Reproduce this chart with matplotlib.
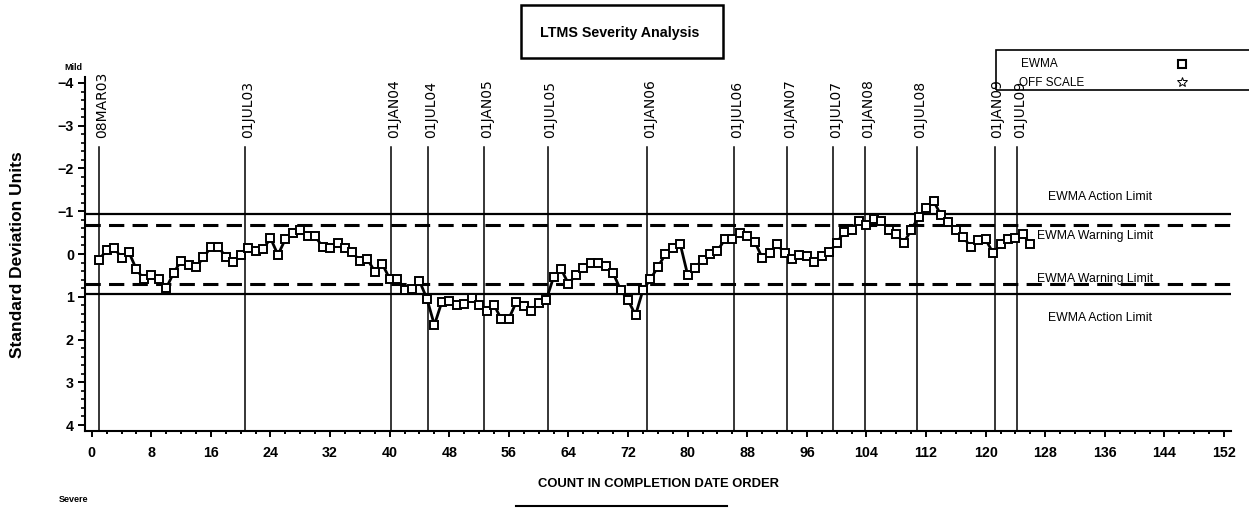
import numpy as np
import matplotlib
matplotlib.use("Agg")  # no display here
from matplotlib import pyplot as plt
from matplotlib.lines import Line2D
from matplotlib.patches import Rectangle

# EWMA of severity, one value per test in completion order
ewma = [0.13, -0.09, -0.15, 0.09, -0.04, 0.36, 0.59, 0.48, 0.58, 0.80,
        0.44, 0.16, 0.26, 0.31, 0.08, -0.16, -0.16, 0.06, 0.18, 0.02,
        -0.13, -0.06, -0.11, -0.37, 0.02, -0.35, -0.50, -0.55, -0.42, -0.41,
        -0.17, -0.15, -0.25, -0.13, -0.04, 0.16, 0.12, 0.41, 0.23, 0.58,
        0.58, 0.84, 0.82, 0.63, 1.05, 1.66, 1.12, 1.09, 1.19, 1.17,
        1.04, 1.19, 1.33, 1.19, 1.53, 1.51, 1.12, 1.22, 1.33, 1.14,
        1.08, 0.54, 0.35, 0.70, 0.48, 0.32, 0.22, 0.22, 0.28, 0.45,
        0.84, 1.08, 1.43, 0.84, 0.59, 0.30, 0.01, -0.13, -0.23, 0.49,
        0.32, 0.13, -0.01, -0.08, -0.34, -0.34, -0.50, -0.41, -0.29, 0.09,
        -0.02, -0.23, -0.02, 0.12, 0.02, 0.04, 0.19, 0.04, -0.05, -0.25,
        -0.52, -0.55, -0.77, -0.68, -0.81, -0.77, -0.57, -0.47, -0.26, -0.56,
        -0.87, -1.07, -1.24, -0.91, -0.76, -0.56, -0.39, -0.17, -0.33, -0.34,
        -0.02, -0.23, -0.34, -0.37, -0.46, -0.23]
count = np.arange(1, len(ewma) + 1)

# calendar reference dates on the count axis
date_labels = ["08MAR03", "01JUL03", "01JAN04", "01JUL04", "01JAN05", "01JUL05",
               "01JAN06", "01JUL06", "01JAN07", "01JUL07", "01JAN08", "01JUL08",
               "01JAN09", "01JUL09"]
date_counts = [1.0, 20.6, 40.2, 45.1, 52.7, 61.2, 74.6, 86.2, 93.3, 99.5,
               103.8, 110.8, 121.2, 124.2]

action_limit = 0.935
warning_limit = 0.69

sans = ["Liberation Sans", "DejaVu Sans"]
W, H = 1249, 508


def fx(px):
    return px / W


def fy(py):
    return 1 - py / H


fig = plt.figure(figsize=(W / 100, H / 100), dpi=100)
ax = fig.add_axes([fx(85), fy(431), fx(1231) - fx(85), fy(77) - fy(431)])
ax.set_xlim(-0.9, 152.93)
ax.set_ylim(4.14, -4.14)

for s in ["top", "right"]:
    ax.spines[s].set_visible(False)
for s in ["left", "bottom"]:
    ax.spines[s].set_linewidth(1.5)

ax.set_xticks(np.arange(0, 153, 8))
ax.set_xticks(np.arange(0, 153, 2), minor=True)
ax.set_yticks(np.arange(-4, 5, 1))
ax.set_yticks(np.arange(-4, 4.01, 0.2), minor=True)
ax.tick_params(axis="x", which="major", length=4, width=1.4, pad=6.5)
ax.tick_params(axis="x", which="minor", length=2.3, width=1.4)
ax.tick_params(axis="y", which="major", length=5, width=1.4, pad=3)
ax.tick_params(axis="y", which="minor", length=2.8, width=1.2)
for lab in ax.get_xticklabels() + ax.get_yticklabels():
    lab.set_family(sans)
    lab.set_fontsize(10.3)
    lab.set_weight("bold")

# limit lines
for sgn in (-1, 1):
    ax.axhline(sgn * action_limit, color="black", lw=1.6)
    ax.axhline(sgn * warning_limit, color="black", lw=2.2, dashes=(5, 2.7))

# date reference lines and their labels
for d, lab in zip(date_counts, date_labels):
    ax.plot([d, d], [-2.5, 4.14], color="black", lw=1.1)
    ax.text(d + 0.4, -2.71, lab, rotation=90, ha="center", va="bottom",
            fontsize=10, family="DejaVu Sans", clip_on=False)

# EWMA trace
ax.plot(count, ewma, color="black", lw=2.0, marker="s", markersize=5.2,
        mfc="white", mec="black", mew=1.4, zorder=5)

# limit labels on the right
lim_font = dict(family=sans, fontsize=8.8, va="center", ha="left")
ax.text(128.4, -1.33, "EWMA Action Limit", **lim_font)
ax.text(126.9, -0.43, "EWMA Warning Limit", **lim_font)
ax.text(126.9, 0.59, "EWMA Warning Limit", **lim_font)
ax.text(128.4, 1.50, "EWMA Action Limit", **lim_font)

# title in a box
fig.patches.append(Rectangle((fx(521), fy(58)), fx(723) - fx(521), fy(5) - fy(58),
                             transform=fig.transFigure, fill=False, lw=1.8,
                             edgecolor="black"))
fig.text(fx(620), fy(33), "LTMS Severity Analysis", ha="center", va="center",
         family=sans, weight="heavy", fontsize=10.3)

# legend box
fig.patches.append(Rectangle((fx(996), fy(90)), fx(1254) - fx(996), fy(50) - fy(90),
                             transform=fig.transFigure, fill=False, lw=1.2,
                             edgecolor="black"))
fig.text(fx(1021), fy(64), "EWMA", ha="left", va="center", family=sans, fontsize=8.5)
fig.text(fx(1019), fy(83), "OFF SCALE", ha="left", va="center", family=sans, fontsize=8.5)
fig.add_artist(Line2D([fx(1182)], [fy(64)], marker="s", markersize=5.2, mfc="white",
                      mec="black", mew=1.5, transform=fig.transFigure))
fig.add_artist(Line2D([fx(1182)], [fy(82)], marker="*", markersize=7, mfc="white",
                      mec="black", mew=0.7, transform=fig.transFigure))

# axis titles
fig.text(fx(18), fy(255), "Standard Deviation Units", rotation=90, ha="center",
         va="center", family=sans, weight="bold", fontsize=12.5)
fig.text(fx(658), fy(484), "COUNT IN COMPLETION DATE ORDER", ha="center", va="center",
         family=sans, weight="bold", fontsize=9.4)
fig.add_artist(Line2D([fx(516), fx(727)], [fy(506), fy(506)], color="black", lw=1.5,
                      transform=fig.transFigure))
fig.text(fx(73), fy(67), "Mild", ha="center", va="center", family=sans,
         weight="bold", fontsize=6.5)
fig.text(fx(74), fy(499), "Severe", ha="center", va="center", family=sans,
         weight="bold", fontsize=6.5)

fig.savefig("out.png", dpi=100)
